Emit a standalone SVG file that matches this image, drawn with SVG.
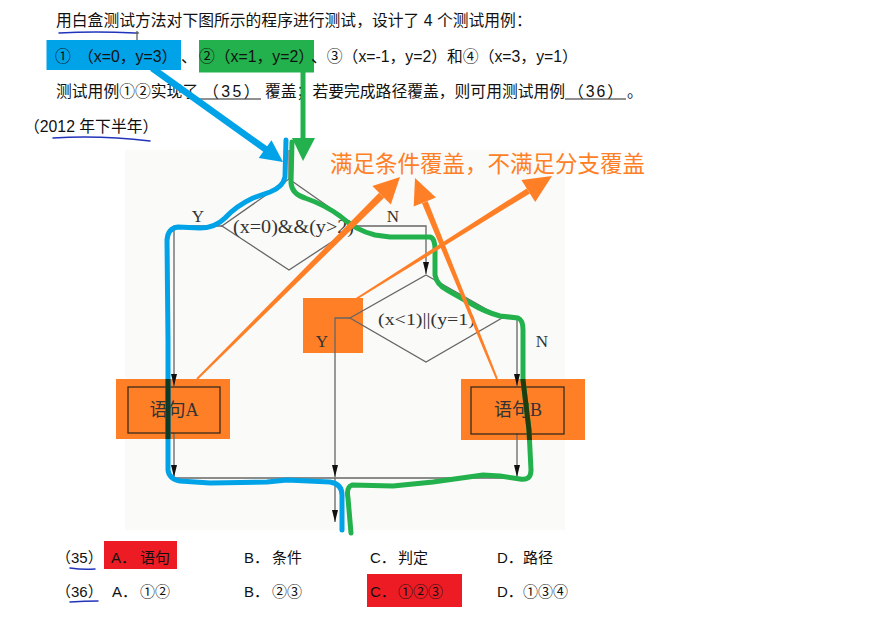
<svg xmlns="http://www.w3.org/2000/svg" width="895" height="620" viewBox="0 0 895 620">
<defs>
<style>
.t{font-family:"Liberation Sans","Noto Sans CJK SC",sans-serif;font-size:15.8px;fill:#111}
.o{font-family:"Liberation Sans","Noto Sans CJK SC",sans-serif;font-size:15px;fill:#111}
.s{font-family:"Liberation Serif","Noto Sans CJK SC",serif;fill:#333}
.fl{fill:none;stroke:#666;stroke-width:1.3}
.pen{fill:none;stroke-width:5;stroke-linecap:round;stroke-linejoin:round}
.ul{fill:none;stroke:#2233bb;stroke-width:1.5;stroke-linecap:round}
.or{fill:#ff7f27}
</style>
<marker id="ah" markerUnits="userSpaceOnUse" markerWidth="12" markerHeight="8" refX="12" refY="4" orient="auto">
<path d="M0,1 L12,4 L0,7 Z" fill="#111"/>
</marker>
<path id="bp" d="M286,140 L285,177 Q283,187 270,192 L253,198 Q236,206 225,218 Q215,228 200,228 L178,227 Q168,228 167,240 L168,340 L168,470 Q169,479 180,481 L210,483 L267,482 L287,480 L330,482 Q342,484 342,495 L342,530"/>
<path id="gp" d="M292,142 L291,183 Q292,194 305,198 Q325,205 340,216 Q355,230 375,235 L390,237 L430,237 Q435,238 435,250 L435,275 Q437,285 447,290 L470,303 Q485,312 500,316 L518,318 Q523,320 523,330 L523,380 L529,430 L531,470 Q531,481 520,479 L500,476 L483,475 L433,482 L393,486 L352,485 Q346,487 348,498 L351,533"/>
<clipPath id="orClip">
<rect x="303" y="298" width="60" height="55"/>
<rect x="116" y="379" width="114" height="60"/>
<rect x="461" y="379" width="124" height="61"/>
</clipPath>
</defs>
<rect width="895" height="620" fill="#ffffff"/>

<g id="question">
<text class="t" x="56" y="26">用白盒测试方法对下图所示的程序进行测试，设计了 4 个测试用例：</text>
<path class="ul" d="M59,33 Q95,31 135,33"/>
<path d="M137,31 L137,40 M135,33 L139,33" stroke="#333" stroke-width="1"/>
<rect x="46.5" y="40" width="134.5" height="30" fill="#00a2e8"/>
<rect x="199" y="40" width="115" height="32.5" fill="#22b14c"/>
<text class="t" x="55" y="62">①</text>
<text class="t" x="78" y="62">（x=0，y=3）</text>
<text class="t" x="181" y="62">、</text>
<text class="t" x="199" y="62">②（x=1，y=2）</text>
<text class="t" x="311" y="62">、③（x=-1，y=2）和④（x=3，y=1）</text>
<text class="t" x="56" y="97">测试用例①②实现了</text>
<text class="t" x="203" y="97" letter-spacing="2.5">（35）</text>
<line x1="198" y1="99" x2="261" y2="99" stroke="#222" stroke-width="1"/>
<text class="t" x="265" y="97">覆盖；若要完成路径覆盖，则可用测试用例</text>
<text class="t" x="568" y="97" letter-spacing="2">（36）</text>
<line x1="565" y1="99" x2="626" y2="99" stroke="#222" stroke-width="1"/>
<text class="t" x="627" y="97">。</text>
<text class="t" x="24" y="132">（2012 年下半年）</text>
<path class="ul" d="M53,138 Q100,135 150,141"/>
</g>

<rect x="125" y="150" width="440" height="380" fill="#fafaf8"/>

<g id="label-Y2-box"><rect class="or" x="303" y="298" width="60" height="55"/></g>
<g id="box-A-bg"><rect class="or" x="116" y="379" width="114" height="60"/></g>
<g id="box-B-bg"><rect class="or" x="461" y="379" width="124" height="61"/></g>

<g id="connectors">
<line class="fl" x1="289" y1="150" x2="289" y2="179"/>
<polyline class="fl" points="222,226 174,226 174,386" marker-end="url(#ah)"/>
<polyline class="fl" points="356,226 426,226 426,274" marker-end="url(#ah)"/>
<polyline class="fl" points="350,318 335,318 335,477" marker-end="url(#ah)"/>
<polyline class="fl" points="502,318 517,318 517,386" marker-end="url(#ah)"/>
<line class="fl" x1="174" y1="433" x2="174" y2="477" marker-end="url(#ah)"/>
<line class="fl" x1="517" y1="433" x2="517" y2="477" marker-end="url(#ah)"/>
<line class="fl" x1="174" y1="478" x2="517" y2="478"/>
<line class="fl" x1="335" y1="478" x2="335" y2="522" marker-end="url(#ah)"/>
</g>

<g id="decision1">
<polygon class="fl" points="289,179 356,226 289,270 222,226"/>
<text class="s" x="233" y="233" font-size="18" textLength="121" lengthAdjust="spacingAndGlyphs">(x=0)&amp;&amp;(y&gt;2)</text>
<text class="s" x="198" y="222" font-size="17" text-anchor="middle">Y</text>
<text class="s" x="393" y="222" font-size="17" text-anchor="middle">N</text>
</g>

<g id="decision2">
<polygon class="fl" points="426,275 502,318 426,362 350,318"/>
<text class="s" x="378" y="325" font-size="17" textLength="97" lengthAdjust="spacingAndGlyphs">(x&lt;1)||(y=1)</text>
<text class="s" x="322" y="347" font-size="17" text-anchor="middle">Y</text>
<text class="s" x="542" y="347" font-size="17" text-anchor="middle">N</text>
</g>

<g id="statementA">
<rect x="128" y="387" width="92" height="46" fill="none" stroke="#3a2a1a" stroke-width="1.3"/>
<text class="s" x="174" y="416" font-size="18" text-anchor="middle">语句A</text>
</g>
<g id="statementB">
<rect x="471" y="387" width="93" height="47" fill="none" stroke="#3a2a1a" stroke-width="1.3"/>
<text class="s" x="518" y="416" font-size="18" text-anchor="middle">语句B</text>
</g>

<g id="paths">
<use href="#bp" class="pen" stroke="#00a2e8"/>
<use href="#gp" class="pen" stroke="#22b14c"/>
<g clip-path="url(#orClip)">
<use href="#bp" class="pen" stroke="#0f3a28"/>
<use href="#gp" class="pen" stroke="#203d10"/>
</g>
<line x1="152" y1="68" x2="268" y2="151" stroke="#00a2e8" stroke-width="6.5"/>
<polygon points="283,162 258.7,158.1 271.5,140.3" fill="#00a2e8"/>
<line x1="303" y1="72" x2="303" y2="142" stroke="#22b14c" stroke-width="5"/>
<polygon points="292,138 315,138 303,161" fill="#22b14c"/>
</g>

<g id="annotation">
<text x="330" y="172" font-family="'Noto Sans CJK SC',sans-serif" font-size="22.5" fill="#ff7f27">满足条件覆盖，不满足分支覆盖</text>
<polygon class="or" points="197.7,379.7 196.3,378.3 379.1,192.8 384.1,197.8"/>
<polygon class="or" points="400,177 390.8,204.5 372.4,186.1"/>
<polygon class="or" points="497.9,378.6 496.1,379.4 422,203.2 427.6,201"/>
<polygon class="or" points="415,178 435.9,197.6 413.7,206.6"/>
<polygon class="or" points="356.5,299.8 355.5,298.2 526.7,188.4 529.9,193.4"/>
<polygon class="or" points="552,176 535.2,201.9 521.4,179.9"/>
</g>

<g id="options">
<rect x="104" y="541" width="73" height="28" fill="#ed1c24"/>
<rect x="367" y="574" width="95" height="33" fill="#ed1c24"/>
<text class="o" x="56" y="563">（35）</text>
<path class="ul" d="M70,568 Q83,570 95,569"/>
<text class="o" x="111" y="563">A．</text><text class="o" x="140" y="563">语句</text>
<text class="o" x="244" y="563">B．</text><text class="o" x="272" y="563">条件</text>
<text class="o" x="370" y="563">C．</text><text class="o" x="398" y="563">判定</text>
<text class="o" x="497" y="563">D．</text><text class="o" x="523" y="563">路径</text>
<text class="o" x="56" y="597">（36）</text>
<path class="ul" d="M70,602 Q85,601 98,601"/>
<text class="o" x="112" y="597">A．</text><text class="o" x="140" y="597">①②</text>
<text class="o" x="244" y="597">B．</text><text class="o" x="272" y="597">②③</text>
<text class="o" x="370" y="597">C．</text><text class="o" x="398" y="597">①②③</text>
<text class="o" x="497" y="597">D．</text><text class="o" x="523" y="597">①③④</text>
</g>
</svg>
